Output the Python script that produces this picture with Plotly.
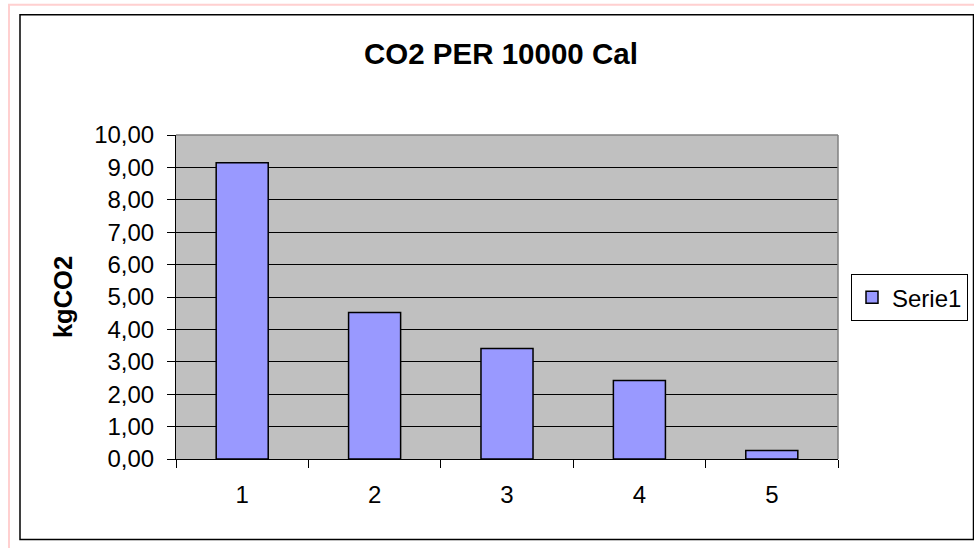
import plotly.graph_objects as go

categories = ["1", "2", "3", "4", "5"]
values = [9.14, 4.52, 3.41, 2.42, 0.26]
series_name = "Serie1"
title_text = "CO2 PER 10000 Cal"
y_title = "kgCO2"

W, H = 974, 548
L, R, T, B = 176, 838, 134.5, 459.3

def px_x(p):
    return (p - L) / (R - L)

def px_y(p):
    return (B - p) / (B - T)

FONT = "Liberation Sans, Arial, sans-serif"

fig = go.Figure()
fig.add_trace(go.Bar(
    x=categories, y=values, name=series_name,
    marker=dict(color="#9999FF", line=dict(color="#000000", width=1.5)),
    showlegend=True,
))

fig.update_layout(
    width=W, height=H,
    margin=dict(l=L, r=W - R, t=T, b=H - B, pad=0, autoexpand=False),
    paper_bgcolor="#FFFFFF",
    plot_bgcolor="#C0C0C0",
    separators=",.",
    bargap=0.607,
    font=dict(family=FONT, size=24, color="#000000"),
    showlegend=True,
    legend=dict(
        x=px_x(968), y=px_y(274), xanchor="right", yanchor="top",
        bordercolor="#000000", borderwidth=1, bgcolor="#FFFFFF",
        font=dict(size=24, family=FONT),
        itemwidth=30,
    ),
    xaxis=dict(
        type="category", range=[-0.5, 4.5],
        showgrid=False, showline=True, linecolor="#000000", linewidth=1,
        ticks="outside", tickson="boundaries", ticklen=8, tickcolor="#000000",
        tickfont=dict(size=24, family=FONT),
        ticklabelstandoff=14,
    ),
    yaxis=dict(
        range=[0, 10], dtick=1, tickformat=".2f",
        showgrid=True, gridcolor="#000000", gridwidth=1,
        showline=True, linecolor="#000000", linewidth=1,
        ticks="outside", ticklen=8, tickcolor="#000000",
        tickfont=dict(size=24, family=FONT),
        ticklabelstandoff=8,
        zeroline=False,
    ),
    shapes=[
        dict(type="rect", xref="paper", yref="paper",
             x0=px_x(9), x1=px_x(990), y0=px_y(4), y1=px_y(570),
             line=dict(color="#FFD0D0", width=2), fillcolor="rgba(0,0,0,0)", layer="below"),
        dict(type="rect", xref="paper", yref="paper",
             x0=px_x(20), x1=px_x(973.5), y0=px_y(14), y1=px_y(540),
             line=dict(color="#000000", width=1.5), fillcolor="rgba(0,0,0,0)", layer="below"),
        dict(type="line", xref="paper", yref="paper", x0=0, x1=1, y0=1, y1=1,
             line=dict(color="#808080", width=1.5)),
        dict(type="line", xref="paper", yref="paper", x0=1, x1=1, y0=0, y1=1,
             line=dict(color="#808080", width=1.5)),
    ],
    annotations=[
        dict(text="<b>" + title_text + "</b>", xref="paper", yref="paper",
             x=px_x(501), y=px_y(53), xanchor="center", yanchor="middle",
             showarrow=False, font=dict(size=29.5, family=FONT)),
        dict(text="<b>" + y_title + "</b>", xref="paper", yref="paper",
             x=px_x(63), y=px_y(297), xanchor="center", yanchor="middle",
             textangle=-90, showarrow=False, font=dict(size=25.5, family=FONT)),
    ],
)

fig.write_html(
    "out.html",
    config={"displayModeBar": False},
    post_script="document.body.style.margin='0';document.body.style.overflow='hidden';",
)
